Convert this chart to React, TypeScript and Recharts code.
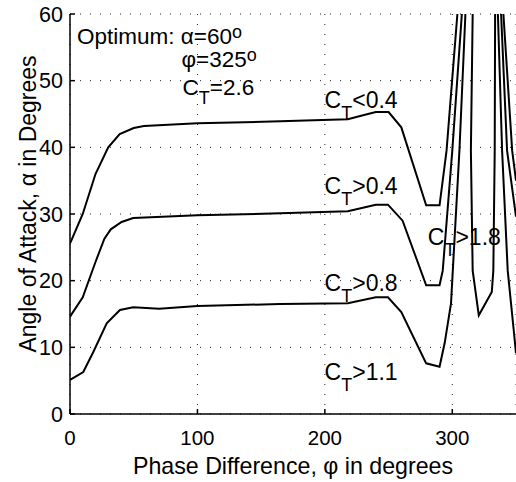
import React from "react";
import { LineChart, Line, XAxis, YAxis, CartesianGrid, ReferenceDot } from "recharts";

// Contour lines: [phase difference (deg), angle of attack (deg)]
const contourLow: [number, number][] = [
  [0, 25.6], [1, 26], [10, 30], [20, 36], [30, 40], [39, 42], [50, 42.9], [58, 43.2],
  [100, 43.6], [165, 43.9], [218, 44.2], [230, 44.8], [240, 45.3], [250, 45.3], [260, 43],
  [279.5, 31.3], [290, 31.3], [295.5, 39.5], [304, 60],
];
const contourMid: [number, number][] = [
  [0, 14.6], [10, 17.5], [20, 22.8], [27, 26.3], [32, 27.7], [40.5, 28.8], [49.6, 29.4],
  [100, 29.8], [165, 30.1], [218, 30.4], [240, 31.4], [249.5, 31.4], [261, 29],
  [279.5, 19.3], [290, 19.3], [292.5, 21.5], [300, 39.5], [307.5, 60],
];
const contourHigh: [number, number][] = [
  [0, 5.1], [10.4, 6.3], [18.3, 9.3], [28.8, 13.6], [39.2, 15.6], [49.6, 16], [70, 15.8],
  [100, 16.2], [165, 16.5], [218, 16.6], [240, 17.5], [249.5, 17.5], [260, 15.3],
  [279.5, 7.6], [290, 7.1], [294, 10.6], [299, 16.6], [300.4, 21.5], [305.6, 39.5], [310.3, 60],
];
const contourPeak: [number, number][] = [
  [316, 60], [314.6, 39.5], [316, 21.5], [320.8, 14.8], [331, 18.3], [332.2, 21.5],
  [333.3, 39.5], [333.6, 60],
];
const contourRight1: [number, number][] = [
  [335.8, 60], [339.1, 39.5], [343.5, 21.5], [348.2, 12.6], [350, 9.1],
];
const contourRight2: [number, number][] = [[338.3, 60], [343, 39.5], [350, 29.6]];
const contourRight3: [number, number][] = [[340.1, 60], [347, 39.5], [350, 35]];

const xTicks = [0, 100, 200, 300];
const yTicks = [0, 10, 20, 30, 40, 50, 60];

// Annotations: text pieces anchored at data coordinates
type Anno = { phi: number; alpha: number; kind: "ct" | "opt1" | "opt2" | "opt3"; rest: string };
const annotations: Anno[] = [
  { phi: 5.5, alpha: 55.5, kind: "opt1", rest: "Optimum: α=60" },
  { phi: 87.5, alpha: 52.1, kind: "opt2", rest: "φ=325" },
  { phi: 88.3, alpha: 47.9, kind: "opt3", rest: "=2.6" },
  { phi: 199.8, alpha: 45.9, kind: "ct", rest: "<0.4" },
  { phi: 199.8, alpha: 33, kind: "ct", rest: ">0.4" },
  { phi: 199.8, alpha: 18.5, kind: "ct", rest: ">0.8" },
  { phi: 199.8, alpha: 5.1, kind: "ct", rest: ">1.1" },
  { phi: 280.8, alpha: 25.3, kind: "ct", rest: ">1.8" },
];

const FONT = '"Liberation Sans", Arial, Helvetica, sans-serif';

const toData = (pts: [number, number][]) => pts.map(([p, a]) => ({ p, a }));
const series = [contourLow, contourMid, contourHigh, contourPeak, contourRight1, contourRight2, contourRight3];

const annoShape = (a: Anno) => (props: any) => {
  const { cx, cy } = props;
  if (a.kind === "opt1" || a.kind === "opt2") {
    return (
      <text x={cx} y={cy} fontFamily={FONT} fontSize={22.5} fill="#000">
        <tspan>{a.rest}</tspan>
        <tspan dy={-6} fontSize={18}>o</tspan>
      </text>
    );
  }
  const big = a.kind === "opt3" ? 22.5 : 23;
  const sub = a.kind === "opt3" ? 9 : 11;
  return (
    <text x={cx} y={cy} fontFamily={FONT} fontSize={big} fill="#000">
      <tspan>C</tspan>
      <tspan dy={sub} fontSize={18}>T</tspan>
      <tspan dy={-sub}>{a.rest}</tspan>
    </text>
  );
};

export default function App() {
  return (
    <div style={{ position: "absolute", left: 0, top: 0, background: "#fff" }}>
      <LineChart width={516} height={482} margin={{ top: 14, right: 0, bottom: 0, left: 0 }}>
        <CartesianGrid stroke="#222" strokeDasharray="1 9" strokeWidth={1} />
        <XAxis
          dataKey="p"
          type="number"
          domain={[0, 350]}
          ticks={xTicks}
          allowDataOverflow
          height={68}
          tickSize={-5}
          tickMargin={21}
          stroke="#000"
          strokeWidth={1.5}
          tick={{ fill: "#000", fontSize: 20.5, fontFamily: FONT }}
          label={{
            content: (props: any) => {
              const vb = props.viewBox;
              return (
                <text x={vb.x + vb.width / 2} y={474} textAnchor="middle" fontFamily={FONT} fontSize={23.2} fill="#000">
                  Phase Difference, φ in degrees
                </text>
              );
            },
          }}
        />
        <XAxis
          xAxisId="top"
          orientation="top"
          type="number"
          domain={[0, 350]}
          ticks={xTicks}
          height={0}
          tick={false}
          tickSize={-5}
          stroke="#000"
          strokeWidth={1.5}
        />
        <YAxis
          type="number"
          domain={[0, 60]}
          ticks={yTicks}
          allowDataOverflow
          width={70}
          tickSize={-5}
          tickMargin={12}
          stroke="#000"
          strokeWidth={1.5}
          tick={{ fill: "#000", fontSize: 21.5, fontFamily: FONT }}
          label={{
            content: () => (
              <text
                x={36}
                y={204}
                transform="rotate(-90 36 204)"
                textAnchor="middle"
                fontFamily={FONT}
                fontSize={23}
                fill="#000"
              >
                Angle of Attack, α in Degrees
              </text>
            ),
          }}
        />
        {series.map((s, i) => (
          <Line
            key={i}
            data={toData(s)}
            dataKey="a"
            type="linear"
            dot={false}
            activeDot={false}
            stroke="#000"
            strokeWidth={2}
            isAnimationActive={false}
          />
        ))}
        {annotations.map((a, i) => (
          <ReferenceDot key={i} x={a.phi} y={a.alpha} r={0} ifOverflow="visible" shape={annoShape(a)} />
        ))}
      </LineChart>
    </div>
  );
}
